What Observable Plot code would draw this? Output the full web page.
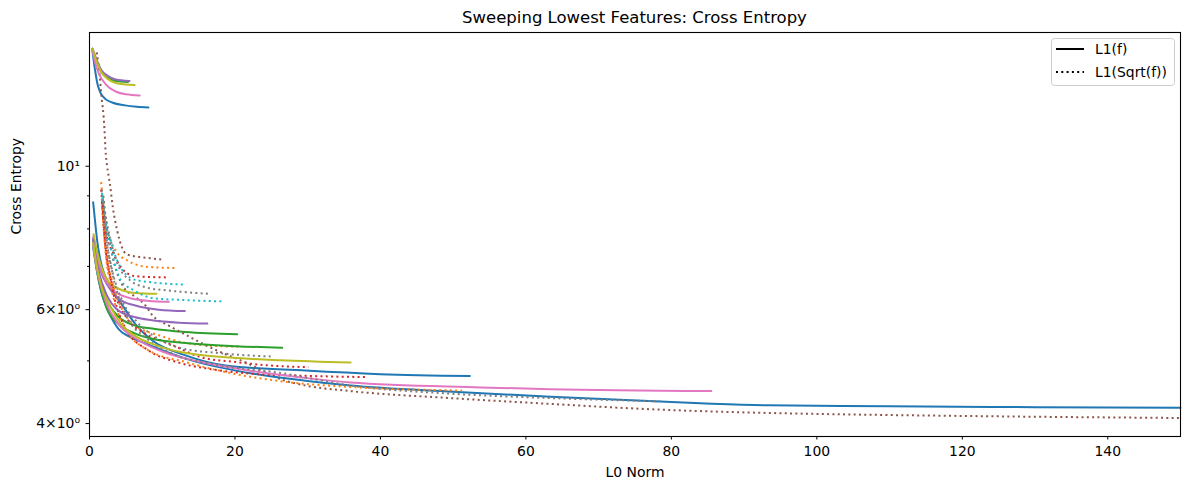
<!DOCTYPE html>
<html><head><meta charset="utf-8">
<script src="https://cdn.jsdelivr.net/npm/d3@7"></script>
<script src="https://cdn.jsdelivr.net/npm/@observablehq/plot@0.6"></script>
<style>
body{margin:0;background:#fff;font-family:"DejaVu Sans",sans-serif;}
#wrap{position:relative;width:1189px;height:490px;}
#title{position:absolute;left:89px;width:1091px;top:8px;text-align:center;font-size:16.5px;color:#000;}
#legend{position:absolute;left:1051px;top:38px;}
</style></head>
<body>
<div id="wrap"><div id="chart"></div><div id="title">Sweeping Lowest Features: Cross Entropy</div><div id="legend"></div></div>
<script>
// ---- data: [L0 Norm, Cross Entropy] ----
const tBlue   = [[0.4,15.1],[0.8,14.0],[1.1,13.4],[1.5,13.0],[2.2,12.7],[3.1,12.55],[4.9,12.42],[6.5,12.36],[8.1,12.33]];
const dOrange1= [[1.6,9.45],[1.75,9.06],[2.2,8.16],[2.9,7.68],[3.8,7.35],[5.2,7.15],[7.9,6.99],[12.1,6.96]];
const tGreen  = [[0.4,15.2],[1.0,14.5],[1.6,14.0],[2.5,13.7],[3.5,13.56],[5.3,13.5]];
const dRed1   = [[1.6,9.2],[1.75,8.76],[2.2,7.96],[3.3,7.33],[4.7,6.9],[6.3,6.76],[10.9,6.73]];
const tPurple = [[0.4,15.2],[1.0,14.6],[1.6,14.1],[2.5,13.8],[3.6,13.62],[5.5,13.55]];
const dBrown1 = [[1.0,15.0],[1.4,13.8],[1.6,13.0],[2.06,11.4],[2.2,10.6],[2.4,10.05],[2.8,9.4],[3.2,8.65],[3.8,7.96],[4.5,7.47],[5.2,7.3],[7.0,7.24],[10.0,7.17]];
const tPink   = [[0.4,15.1],[0.9,14.3],[1.3,13.9],[2.2,13.4],[3.6,13.05],[5.0,12.92],[6.9,12.87]];
const dGray1  = [[1.7,9.2],[2.0,8.6],[2.6,7.96],[3.8,7.09],[5.6,6.66],[7.9,6.49],[11.1,6.42],[16.4,6.35]];
const tOlive  = [[0.4,15.2],[1.0,14.5],[1.6,14.0],[2.5,13.65],[3.6,13.45],[5.0,13.38],[6.2,13.35]];
const dCyan1  = [[1.7,9.1],[2.0,8.45],[2.9,7.68],[3.8,7.15],[4.7,6.86],[6.6,6.66],[13.2,6.56]];

const lBlueA  = [[0.5,8.8],[0.75,8.25],[1.05,7.68],[1.5,7.15],[2.2,6.74],[3.1,6.43],[4.5,6.1],[6.3,5.7],[8.6,5.38],[13.2,5.1],[18.7,4.92],[29.7,4.83],[40,4.77],[52.3,4.74]];
const dOrange2= [[1.7,8.9],[2.0,8.0],[2.5,7.2],[3.5,6.4],[4.5,6.0],[6.3,5.67],[9.5,5.48],[13.2,5.33],[17.8,5.27],[21.0,5.26]];
const lGreen1 = [[0.5,7.7],[0.9,7.2],[1.3,6.8],[2.3,6.25],[4.0,5.85],[6.3,5.67],[8.6,5.61],[13.2,5.54],[20.3,5.50]];
const dRed2   = [[1.7,8.8],[2.0,7.9],[2.6,7.0],[3.5,6.35],[5.0,5.85],[7.7,5.51],[10.9,5.32],[15.5,5.06],[20.1,4.98],[24.7,4.92],[30.1,4.89]];
const lPurple1= [[0.5,7.73],[1.5,6.90],[2.65,6.50],[4.0,6.24],[6.3,6.09],[9.5,6.00],[13.1,5.97]];
const dBrown2 = [[1.9,9.0],[2.3,8.2],[3.0,7.4],[4.7,6.5],[6.3,6.28],[7.7,6.09],[8.6,5.89],[10.9,5.67],[13.2,5.49],[15.5,5.32],[18.7,5.12],[21,5.0],[26.9,4.66],[29.7,4.58],[35.9,4.49],[49.6,4.38],[63.4,4.29],[77,4.21],[90.9,4.16],[100,4.14],[120,4.11],[150,4.08]];
const lPink1  = [[0.5,7.77],[1.3,7.07],[2.2,6.66],[3.6,6.39],[5.4,6.26],[8.2,6.19],[10.9,6.17]];
const dGray2  = [[1.8,8.9],[2.2,7.9],[3.0,7.0],[4.5,6.2],[6.5,5.75],[9.0,5.45],[12.3,5.24],[17.8,5.14],[24.9,5.08]];
const lOlive1 = [[0.55,7.85],[1.05,7.37],[1.75,6.93],[2.65,6.62],[4.0,6.47],[6.3,6.37],[9.2,6.35]];
const dCyan2  = [[1.8,9.0],[2.2,8.2],[3.0,7.4],[4.3,6.66],[6.1,6.43],[8.8,6.25],[13,6.21],[18.4,6.18]];

const lBlueB  = [[0.5,7.5],[1.0,6.9],[1.6,6.4],[2.5,6.0],[4.0,5.6],[5.5,5.45],[7.7,5.32],[13.2,5.04],[20.1,4.83],[29.7,4.66],[35.9,4.58],[50,4.48],[63.4,4.40],[84,4.30],[93.2,4.27],[110,4.255],[130,4.24],[150,4.23]];
const dOrange3= [[1.8,8.6],[2.1,7.6],[3.0,6.5],[5.0,5.6],[8.0,5.2],[13.2,4.98],[20.1,4.77],[26.3,4.65],[35.4,4.56],[51.2,4.50]];
const lGreen2 = [[0.5,7.6],[0.9,7.05],[1.3,6.65],[2.3,6.05],[4.0,5.7],[6.3,5.51],[8.6,5.41],[13.2,5.33],[20.1,5.27],[26.5,5.24]];
const dRed3   = [[1.8,8.7],[2.1,7.7],[3.0,6.6],[5.0,5.6],[8.0,5.2],[12,4.98],[17,4.85],[22,4.78],[30,4.74],[38.2,4.72]];
const lPurple2= [[0.5,7.7],[0.9,7.2],[1.3,6.85],[2.3,6.35],[4.0,5.98],[6.3,5.84],[8.6,5.78],[12.3,5.73],[16.2,5.71]];
const lPink2  = [[0.5,7.6],[0.9,7.05],[1.3,6.7],[2.3,6.15],[4.0,5.7],[6.3,5.42],[10,5.17],[15,4.99],[20,4.87],[30.8,4.69],[35.9,4.63],[53.8,4.55],[63.4,4.52],[85.5,4.49]];
const dGray3  = [[1.9,8.8],[2.3,7.8],[3.2,6.8],[5.0,5.9],[8.0,5.4],[12,5.1],[18,4.92],[26.3,4.79],[35.9,4.58],[49.6,4.45],[63.4,4.38],[78.5,4.33]];
const lOlive2 = [[0.5,7.6],[1.0,7.0],[1.5,6.6],[2.9,6.06],[4.3,5.71],[6.1,5.48],[9.3,5.28],[12.5,5.16],[19.4,5.06],[26.3,5.01],[35.9,4.97]];

const curves = [tBlue,dOrange1,tGreen,dRed1,tPurple,dBrown1,tPink,dGray1,tOlive,dCyan1,
  lBlueA,dOrange2,lGreen1,dRed2,lPurple1,dBrown2,lPink1,dGray2,lOlive1,dCyan2,
  lBlueB,dOrange3,lGreen2,dRed3,lPurple2,lPink2,dGray3,lOlive2];
const curveKind = ["L1(f)","L1(Sqrt(f))","L1(f)","L1(Sqrt(f))","L1(f)","L1(Sqrt(f))","L1(f)","L1(Sqrt(f))","L1(f)","L1(Sqrt(f))",
  "L1(f)","L1(Sqrt(f))","L1(f)","L1(Sqrt(f))","L1(f)","L1(Sqrt(f))","L1(f)","L1(Sqrt(f))","L1(f)","L1(Sqrt(f))",
  "L1(f)","L1(Sqrt(f))","L1(f)","L1(Sqrt(f))","L1(f)","L1(f)","L1(Sqrt(f))","L1(f)"];
const curveHue = ["blue","orange","green","red","purple","brown","pink","gray","olive","cyan",
  "blue","orange","green","red","purple","brown","pink","gray","olive","cyan",
  "blue","orange","green","red","purple","pink","gray","olive"];

const xTicks = [0,20,40,60,80,100,120,140];
const yMajorTicks = [4,6,10];
const yMajorLabels = ["4×10⁰","6×10⁰","10¹"];
const yMinorTicks = [5,7,8,9];

// ---- styles ----
const tab10 = {blue:"#1f77b4",orange:"#ff7f0e",green:"#2ca02c",red:"#d62728",purple:"#9467bd",brown:"#8c564b",pink:"#e377c2",gray:"#7f7f7f",olive:"#bcbd22",cyan:"#17becf"};

const rows = curves.flatMap((c, i) => c.map(([x, y]) => ({x, y, id: i, kind: curveKind[i], color: tab10[curveHue[i]]})));

const marks = [];
curves.forEach((c, i) => {
  const data = rows.filter(r => r.id === i);
  if (curveKind[i] === "L1(f)") {
    marks.push(Plot.line(data, {x: "x", y: "y", stroke: "color", strokeWidth: 2, curve: "monotone-x"}));
  } else {
    marks.push(Plot.line(data, {x: "x", y: "y", stroke: "color", strokeWidth: 2, strokeDasharray: "2,3.3", strokeLinecap: "butt", curve: "monotone-x"}));
  }
});

const chart = Plot.plot({
  width: 1189, height: 490,
  marginLeft: 89, marginRight: 9, marginTop: 32, marginBottom: 54,
  style: {fontFamily: "DejaVu Sans, sans-serif", fontSize: "13.9px", color: "#000", background: "#fff"},
  x: {domain: [0, 150]},
  y: {type: "log", domain: [3.82, 16.1]},
  color: {type: "identity"},
  marks: [
    ...marks,
    Plot.frame({stroke: "#000", strokeWidth: 1.1}),
    Plot.axisX({ticks: xTicks, tickSize: 3.5, tickPadding: 6, label: null, tickFormat: d => String(d)}),
    Plot.axisY({ticks: yMajorTicks, tickSize: 3.5, tickPadding: 6, label: null, tickFormat: d => yMajorLabels[yMajorTicks.indexOf(d)]}),
    Plot.axisY({ticks: yMinorTicks, tickSize: 2, label: null, tickFormat: () => ""}),
    Plot.text(["L0 Norm"], {frameAnchor: "bottom", dy: 40, fontSize: 13.9, fill: "#000"}),
    Plot.text(["Cross Entropy"], {frameAnchor: "left", dx: -73, rotate: -90, fontSize: 13.9, fill: "#000"})
  ]
});
document.getElementById("chart").appendChild(chart);

// legend (inside plot area, upper right)
const legendKinds = ["L1(f)", "L1(Sqrt(f))"];
const lg = d3.select("#legend").append("svg").attr("width", 124).attr("height", 48);
lg.append("rect").attr("x", 0.5).attr("y", 0.5).attr("width", 123).attr("height", 47).attr("rx", 3)
  .attr("fill", "rgba(255,255,255,0.8)").attr("stroke", "#ccc");
legendKinds.forEach((k, i) => {
  const yy = 11 + i * 23;
  lg.append("line").attr("x1", 5).attr("x2", 33).attr("y1", yy).attr("y2", yy)
    .attr("stroke", "#000").attr("stroke-width", 2)
    .attr("stroke-dasharray", i === 0 ? null : "2,3.3");
  lg.append("text").attr("x", 44).attr("y", yy).attr("dy", "0.35em")
    .attr("font-size", "13.9px").attr("font-family", "DejaVu Sans, sans-serif").text(k);
});
</script>
</body></html>
